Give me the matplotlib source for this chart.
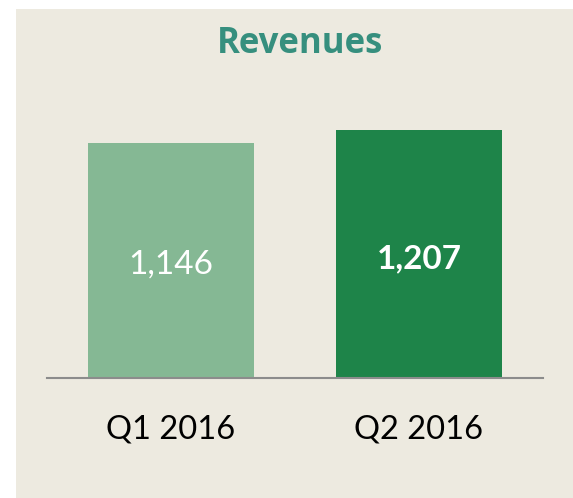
import matplotlib
matplotlib.use("Agg")
import matplotlib.pyplot as plt
import matplotlib.transforms as mtransforms
from matplotlib.patches import Rectangle

# data
quarters = ["Q1 2016", "Q2 2016"]
revenues = [1146, 1207]
bar_colors = ["#85B894", "#1E8449"]
label_weights = ["normal", "bold"]

plt.rcParams['font.family'] = ['Lato', 'DejaVu Sans']

W, H, dpi = 573, 498, 100
fig = plt.figure(figsize=(W / dpi, H / dpi), dpi=dpi, facecolor="white")

# beige panel behind the chart
fig.patches.append(Rectangle((16 / W, 0), 1 - 16 / W, (H - 9) / H,
                             transform=fig.transFigure, facecolor="#EDEAE0",
                             edgecolor="none", zorder=-10))

ax = fig.add_axes([47 / W, (H - 378) / H, (543 - 47) / W, (378 - 100) / H])
ax.set_facecolor("none")
ax.set_zorder(5)

x = list(range(len(quarters)))
ax.bar(x, revenues, width=0.669, color=bar_colors, zorder=2)
ax.set_xlim(-0.5, 1.5)
ax.set_ylim(0, 1355)

shift = mtransforms.ScaledTranslation(0, -3 / 72, fig.dpi_scale_trans)
for xi, v, w in zip(x, revenues, label_weights):
    ax.text(xi, v / 2, f"{v:,}", ha="center", va="center", color="white",
            fontsize=24, fontweight=w, zorder=3,
            transform=ax.transData + shift)

for s in ["top", "right", "left"]:
    ax.spines[s].set_visible(False)
ax.spines["bottom"].set_color("#8C8C8C")
ax.spines["bottom"].set_linewidth(1.5)
ax.set_yticks([])
ax.set_xticks(x)
ax.set_xticklabels(quarters, fontsize=23.5, color="black")
ax.tick_params(axis="x", length=0, pad=26)

fig.text(300.5 / W, (H - 44) / H, "Revenues", ha="center", va="center",
         fontsize=25, fontweight="bold", color="#368F7E", zorder=6,
         family=["Open Sans", "DejaVu Sans"])

fig.savefig("out.png", dpi=dpi, facecolor=fig.get_facecolor())
